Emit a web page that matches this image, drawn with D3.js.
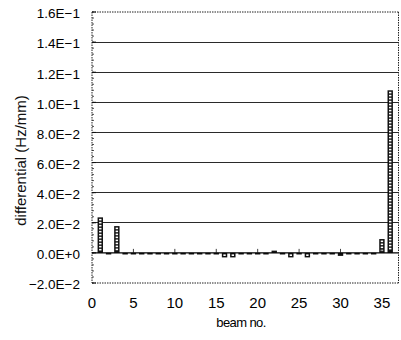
<!DOCTYPE html>
<html><head><meta charset="utf-8">
<script src="https://cdn.jsdelivr.net/npm/d3@7"></script>
<style>html,body{margin:0;padding:0;background:#fff;}svg{display:block;font-family:"Liberation Sans",Arial,sans-serif;}</style>
</head><body><svg id="c" width="401" height="340"></svg>
<script>
const beams = d3.range(1, 37);
const values = [0.0236,-0.001,0.0178,-0.001,0,-0.001,-0.0008,0,0,-0.0008,0,0,0,-0.001,0,-0.003,-0.003,0,0,0,0,0.0015,0,-0.003,0,-0.003,0,-0.001,-0.001,-0.002,0,-0.0006,0,0,0.0092,0.108];
const yTickValues = [-0.02,0,0.02,0.04,0.06,0.08,0.10,0.12,0.14,0.16];
const yTickLabels = ["−2.0E−2","0.0E+0","2.0E−2","4.0E−2","6.0E−2","8.0E−2","1.0E−1","1.2E−1","1.4E−1","1.6E−1"];
const xTickValues = [0,5,10,15,20,25,30,35];
const xLabel = "beam no.";
const yLabel = "differential (Hz/mm)";

const svg = d3.select("#c");
const x = d3.scaleLinear().domain([0,37]).range([92,398.5]);
const y = d3.scaleLinear().domain([-0.02,0.16]).range([283,12]);
const L = x.range()[0], R = x.range()[1], T = y.range()[1], B = y.range()[0];

// gridlines
svg.append("g").selectAll("line").data(yTickValues.filter(v=>v>-0.02 && v<0.16 && v!==0))
  .join("line").attr("x1",L).attr("x2",R).attr("y1",d=>y(d)).attr("y2",d=>y(d))
  .attr("stroke","#2a2a2a").attr("stroke-width",1).attr("shape-rendering","crispEdges");

// dotted frame
const frame = svg.append("g").attr("stroke","#222").attr("stroke-width",1).attr("stroke-dasharray","1.5,1").attr("fill","none");
frame.append("line").attr("x1",L).attr("x2",R).attr("y1",T).attr("y2",T);
frame.append("line").attr("x1",L).attr("x2",R).attr("y1",B).attr("y2",B);
frame.append("line").attr("x1",L).attr("x2",L).attr("y1",T).attr("y2",B);
frame.append("line").attr("x1",R).attr("x2",R).attr("y1",T).attr("y2",B);

// y axis minor + major ticks
const minor = d3.range(-0.02, 0.1601, 0.004);
svg.append("g").selectAll("line").data(minor).join("line")
  .attr("x1",L).attr("x2",L+2).attr("y1",d=>y(d)).attr("y2",d=>y(d))
  .attr("stroke","#222").attr("stroke-width",0.8);
svg.append("g").selectAll("line").data(yTickValues).join("line")
  .attr("x1",L).attr("x2",L+4).attr("y1",d=>y(d)).attr("y2",d=>y(d))
  .attr("stroke","#111").attr("stroke-width",1);

// y tick labels
svg.append("g").selectAll("text").data(yTickValues).join("text")
  .attr("x",80).attr("y",d=>y(d)+1.5).attr("dy","0.36em").attr("text-anchor","end")
  .attr("font-size",13.5).attr("fill","#000").text((d,i)=>yTickLabels[i]);

// bars
const bw = 5.4;
const bars = svg.append("g").selectAll("g").data(beams.map((b,i)=>({b, v: values[i]}))).join("g");
bars.append("rect")
  .attr("x",d=>x(d.b)-bw/2).attr("width",bw)
  .attr("y",d=>y(Math.max(0,d.v))).attr("height",d=>Math.max(1.6, Math.abs(y(d.v)-y(0))))
  .attr("fill","#111");
bars.each(function(d){
  const top = y(Math.max(0,d.v)), h = Math.abs(y(d.v)-y(0));
  const n = Math.floor((h-1.5)/3);
  d3.select(this).selectAll("rect.sq").data(d3.range(Math.max(0,n))).join("rect").attr("class","sq")
    .attr("x", x(d.b)-1.2).attr("width",2.4)
    .attr("y", k=>top+1.5+k*3).attr("height",1.6).attr("fill","#fff");
});

// zero line
svg.append("line").attr("x1",L).attr("x2",R).attr("y1",y(0)).attr("y2",y(0))
  .attr("stroke","#000").attr("stroke-width",1.2);

// x ticks on zero line
svg.append("g").selectAll("line").data(xTickValues.filter(v=>v>0)).join("line")
  .attr("x1",d=>x(d)).attr("x2",d=>x(d)).attr("y1",y(0)).attr("y2",y(0)-4)
  .attr("stroke","#111").attr("stroke-width",0.8);

// x tick labels
svg.append("g").selectAll("text").data(xTickValues).join("text")
  .attr("x",d=>x(d)).attr("y",303).attr("dy","0.36em").attr("text-anchor","middle")
  .attr("font-size",15).attr("fill","#000").text(d=>d);

svg.append("text").attr("x",241).attr("y",322).attr("dy","0.36em").attr("text-anchor","middle")
  .attr("font-size",13).attr("letter-spacing","-0.6").attr("fill","#000").text(xLabel);

svg.append("text").attr("transform",`translate(21,${(T+B)/2+13}) rotate(-90)`).attr("dy","0.36em")
  .attr("text-anchor","middle").attr("font-size",15).attr("fill","#111").text(yLabel);
</script></body></html>
